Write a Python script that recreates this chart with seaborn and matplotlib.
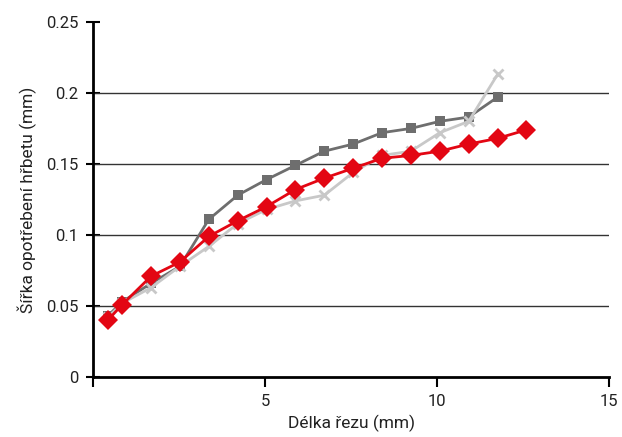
import numpy as np
import pandas as pd
import matplotlib
matplotlib.use("Agg")
import matplotlib.pyplot as plt
import seaborn as sns

# ---------------------------
# DATA
# ---------------------------
cut_len = [0.42, 0.84, 1.68, 2.52, 3.36, 4.20, 5.04, 5.88, 6.72, 7.56,
           8.40, 9.24, 10.08, 10.92, 11.76, 12.60]

wear_dark = [0.043, 0.053, 0.066, 0.078, 0.111, 0.128, 0.139, 0.149, 0.159,
             0.164, 0.172, 0.175, 0.180, 0.183, 0.197]
wear_light = [0.042, 0.052, 0.063, 0.078, 0.092, 0.108, 0.118, 0.124, 0.128,
              0.144, 0.156, 0.159, 0.172, 0.180, 0.213]
wear_red = [0.040, 0.051, 0.071, 0.081, 0.099, 0.110, 0.120, 0.132, 0.140,
            0.147, 0.154, 0.156, 0.159, 0.164, 0.168, 0.174]

x_ticks = [0, 5, 10, 15]
x_labels = ["", "5", "10", "15"]
y_ticks = [0, 0.05, 0.1, 0.15, 0.2, 0.25]
y_labels = ["0", "0.05", "0.1", "0.15", "0.2", "0.25"]

# ---------------------------
# PLOT
# ---------------------------
sns.set_style("white")
plt.rcParams["font.family"] = ["Roboto", "DejaVu Sans"]

fig = plt.figure(figsize=(6.22, 4.37), dpi=100)
ax = fig.add_axes([0.15, 0.137, 0.829, 0.813])

sns.lineplot(x=cut_len[:len(wear_dark)], y=wear_dark, ax=ax, color="#6e6e6e",
             marker="s", markersize=7.5, markeredgewidth=0, markeredgecolor="#6e6e6e",
             linewidth=2, zorder=3)
sns.lineplot(x=cut_len[:len(wear_light)], y=wear_light, ax=ax, color="#c8c8c8",
             marker="x", markersize=7, markeredgewidth=2, markeredgecolor="#c8c8c8",
             linewidth=2, zorder=4)
sns.lineplot(x=cut_len, y=wear_red, ax=ax, color="#e30613",
             marker="D", markersize=10, markeredgewidth=0, markeredgecolor="#e30613",
             linewidth=2, zorder=5)

ax.set_xlim(0, 15)
ax.set_ylim(0, 0.25)
ax.set_xticks(x_ticks)
ax.set_xticklabels(x_labels)
ax.set_yticks(y_ticks)
ax.set_yticklabels(y_labels)

for yv in y_ticks[1:-1]:
    ax.axhline(yv, color="#333333", linewidth=1, zorder=1)

for s in ["top", "right"]:
    ax.spines[s].set_visible(False)
for s in ["left", "bottom"]:
    ax.spines[s].set_color("black")
    ax.spines[s].set_linewidth(2)

ax.tick_params(axis="y", direction="inout", length=10, width=1.5, colors="black",
               labelsize=12, pad=6, left=True)
ax.tick_params(axis="x", direction="out", length=7, width=1.5, colors="black",
               labelsize=12, pad=5, bottom=True)
for lab in ax.get_xticklabels() + ax.get_yticklabels():
    lab.set_color("#222222")

ax.set_xlabel("Délka řezu (mm)", fontsize=12.5, color="#222222", labelpad=4)
ax.set_ylabel("Šířka opotřebení hřbetu (mm)", fontsize=12.5, color="#222222", labelpad=6)

fig.savefig("out.png", dpi=100)
